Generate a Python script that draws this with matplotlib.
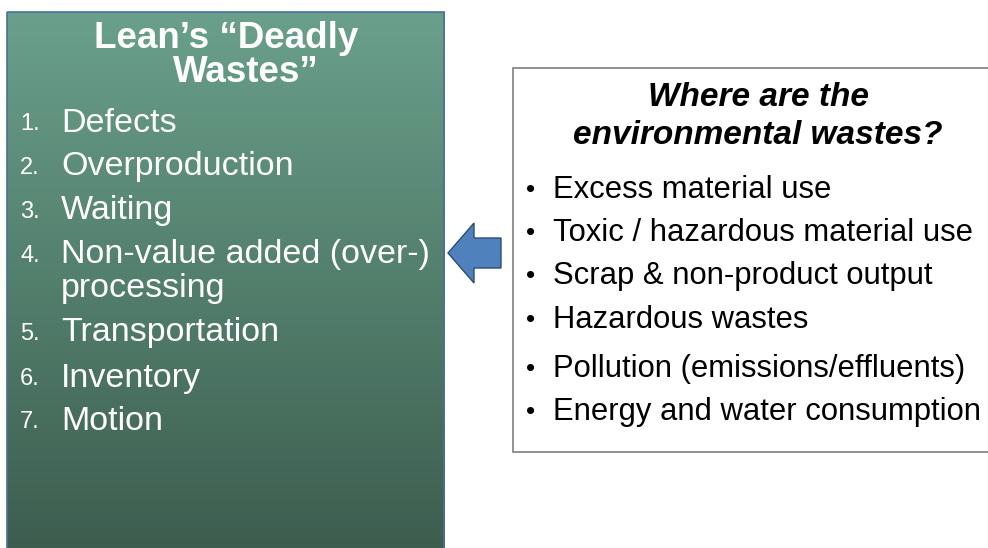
import numpy as np
import matplotlib.pyplot as plt
from matplotlib.patches import Rectangle, Polygon
from matplotlib.colors import LinearSegmentedColormap

# Textos
left_title = ['Lean\u2019s \u201cDeadly', 'Wastes\u201d']
left_items = ['Defects', 'Overproduction', 'Waiting',
              'Non-value added (over-)\nprocessing',
              'Transportation', 'Inventory', 'Motion']
right_title = ['Where are the', 'environmental wastes?']
right_items = ['Excess material use', 'Toxic / hazardous material use',
               'Scrap & non-product output', 'Hazardous wastes',
               'Pollution (emissions/effluents)', 'Energy and water consumption']

plt.rcParams['font.family'] = ['Liberation Sans', 'DejaVu Sans']

fig = plt.figure(figsize=(9.88, 5.48), dpi=100)
ax = fig.add_axes([0, 0, 1, 1])
ax.set_xlim(0, 988)
ax.set_ylim(548, 0)
ax.axis('off')

# Caja izquierda con degradado
cmap = LinearSegmentedColormap.from_list('g', ['#6aa08b', '#537f6d', '#3d5d4f'])
grad = np.linspace(0, 1, 256).reshape(-1, 1)
ax.imshow(grad, cmap=cmap, extent=(7, 444, 549, 12), aspect='auto', zorder=1)
ax.add_patch(Rectangle((7, 12), 437, 540, fill=False, ec='#4a6f9c', lw=1.2, zorder=2))

ax.text(226, 38, left_title[0], color='white', fontsize=26.5, fontweight='bold',
        ha='center', va='center', zorder=3)
ax.text(246, 72, left_title[1], color='white', fontsize=26.5, fontweight='bold',
        ha='center', va='center', zorder=3)

y_left = [123, 167, 211, 255, 333, 378, 421]
for i, (txt, y) in enumerate(zip(left_items, y_left)):
    ax.text(20, y + 1, f'{i + 1}.', color='white', fontsize=17, ha='left', va='center', zorder=3)
    lines = txt.split('\n')
    for j, ln in enumerate(lines):
        ax.text(61, y + j * 33, ln, color='white', fontsize=24.5, ha='left', va='center', zorder=3)

# Flecha
arrow = Polygon([(448, 253), (474, 223), (474, 238), (501, 238),
                 (501, 268), (474, 268), (474, 283)],
                closed=True, fc='#4f81bd', ec='#2c4d75', lw=1, zorder=3)
ax.add_patch(arrow)

# Caja derecha
ax.add_patch(Rectangle((513, 68), 490, 384, fc='white', ec='#7f7f7f', lw=1.2, zorder=2))
ax.text(758, 97, right_title[0], color='black', fontsize=24, fontweight='bold',
        fontstyle='italic', ha='center', va='center', zorder=3)
ax.text(758, 135, right_title[1], color='black', fontsize=24, fontweight='bold',
        fontstyle='italic', ha='center', va='center', zorder=3)

y_right = [190, 233, 276, 320, 369, 412]
for txt, y in zip(right_items, y_right):
    ax.text(526, y, '\u2022', color='black', fontsize=19, ha='left', va='center', zorder=3)
    ax.text(553, y, txt, color='black', fontsize=22.3, ha='left', va='center', zorder=3)

fig.savefig('out.png', dpi=100)
